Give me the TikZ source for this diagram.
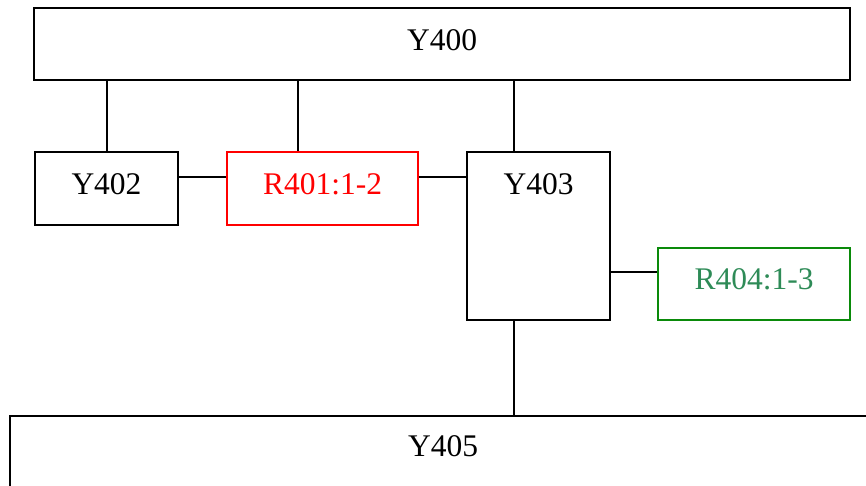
\documentclass[tikz,border=0pt]{standalone}
\usepackage{fontspec}
\setmainfont{Liberation Serif}
\definecolor{redline}{HTML}{FF0000}
\definecolor{greenline}{HTML}{0A8A0A}
\definecolor{greentext}{HTML}{2E8B57}
\begin{document}
\begin{tikzpicture}[x=1pt,y=-1pt,
  box/.style={draw, line width=1.3pt, rectangle, inner sep=0pt},
  lbl/.style={inner sep=0pt, font=\fontsize{31.5}{36}\selectfont},
  conn/.style={line width=1.3pt}]
\useasboundingbox (0,0) rectangle (866,486);
\clip (0,0) rectangle (866,486);
\node[box, minimum width=816pt, minimum height=72pt] (Y400) at (442,44) {};
\node[lbl] (Y400t) at (442,40) {Y400};
\node[box, minimum width=143pt, minimum height=73pt] (Y402) at (106.5,188.5) {};
\node[lbl] (Y402t) at (106.5,184) {Y402};
\node[box, draw=redline, minimum width=191pt, minimum height=73pt] (R401) at (322.5,188.5) {};
\node[lbl, text=redline] (R401t) at (322.5,184) {R401:1-2};
\node[box, minimum width=143pt, minimum height=168pt] (Y403) at (538.5,236) {};
\node[lbl] (Y403t) at (538.5,184) {Y403};
\node[box, draw=greenline, minimum width=192pt, minimum height=72pt] (R404) at (754,284) {};
\node[lbl, text=greentext] (R404t) at (754,279) {R404:1-3};
\node[box, minimum width=890pt, minimum height=104pt] (Y405) at (455,468) {};
\node[lbl] (Y405t) at (443,446) {Y405};
\coordinate (k1) at (107,0);
\coordinate (k2) at (298,0);
\coordinate (k3) at (514,0);
\coordinate (h1) at (0,177);
\coordinate (h2) at (0,272);
\draw[conn] (Y400.south -| k1) -- (Y402.north -| k1);
\draw[conn] (Y400.south -| k2) -- (R401.north -| k2);
\draw[conn] (Y400.south -| k3) -- (Y403.north -| k3);
\draw[conn] (Y402.east |- h1) -- (R401.west |- h1);
\draw[conn] (R401.east |- h1) -- (Y403.west |- h1);
\draw[conn] (Y403.east |- h2) -- (R404.west |- h2);
\draw[conn] (Y403.south -| k3) -- (Y405.north -| k3);
\end{tikzpicture}
\end{document}
